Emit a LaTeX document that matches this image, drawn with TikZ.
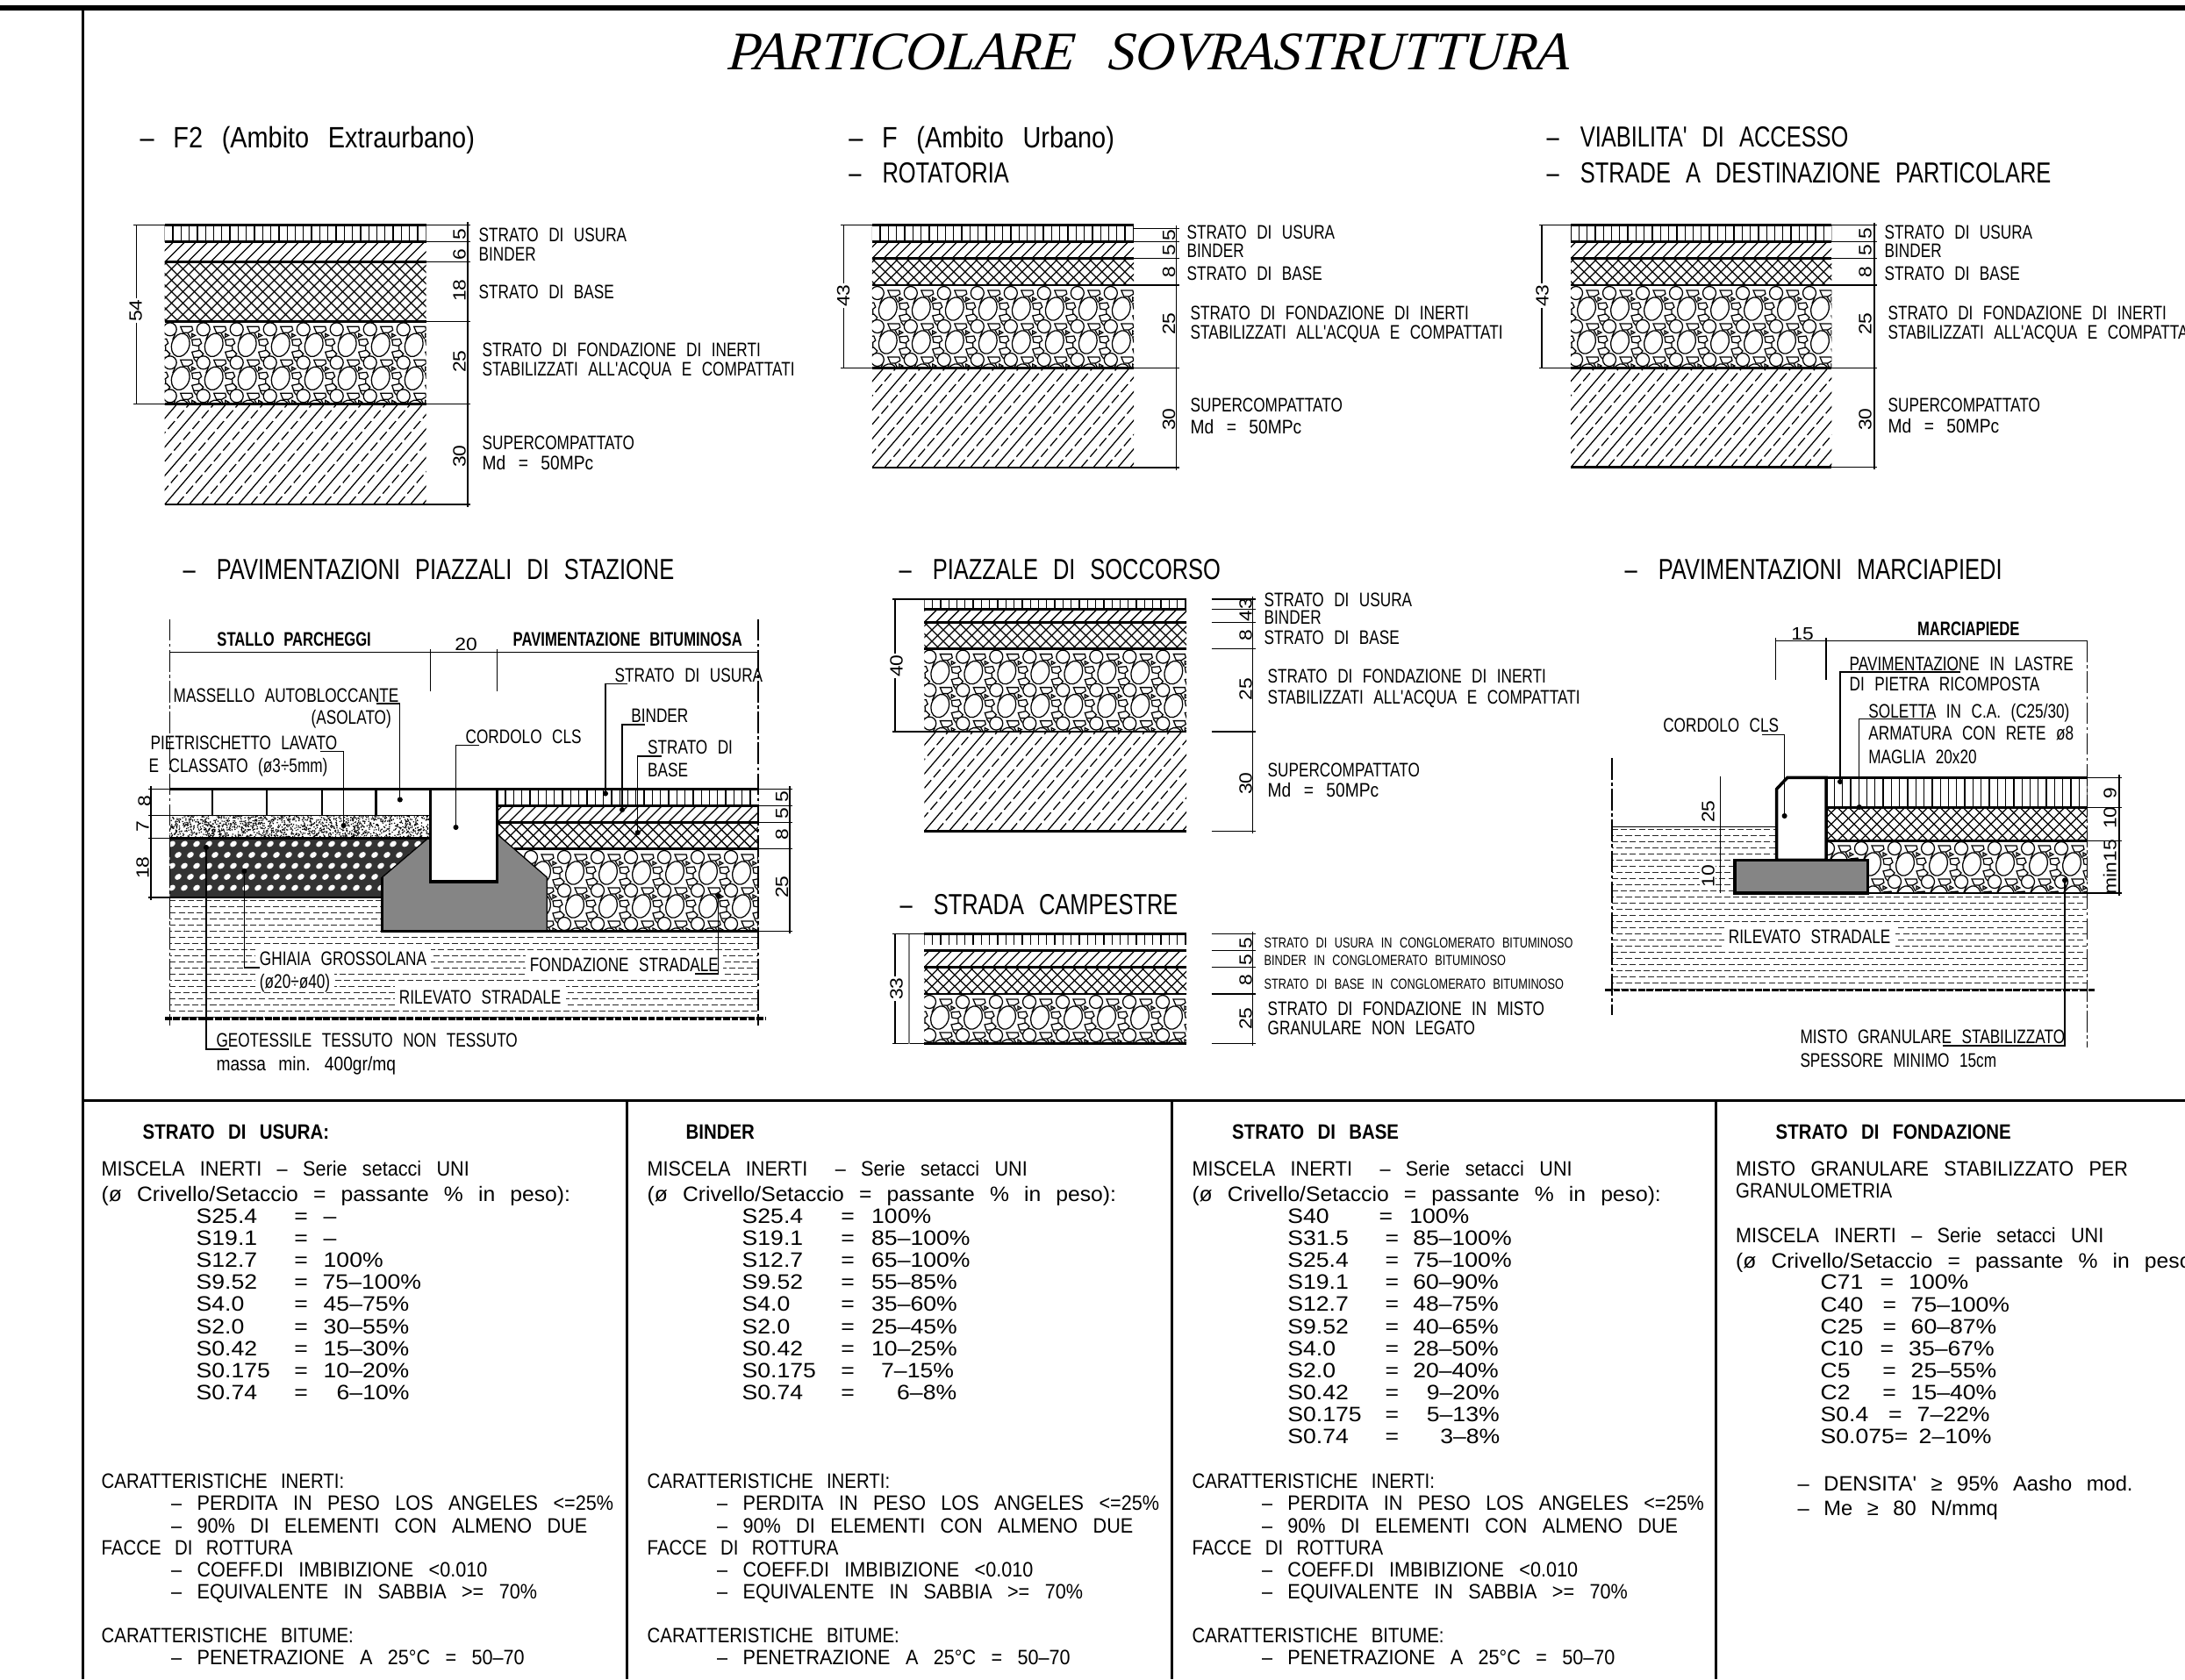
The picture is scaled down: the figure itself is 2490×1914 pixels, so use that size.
\documentclass[tikz,border=0pt]{standalone}
\usepackage{fontspec}
\newfontfamily\cadfont[FakeStretch=0.77,WordSpace=2.4]{Liberation Sans}
\newfontfamily\cadboldfont[FakeStretch=0.745,WordSpace=2.3]{Liberation Sans}
\newfontfamily\capfont[FakeStretch=0.86,WordSpace=2.7]{Liberation Sans}
\newfontfamily\widefont[FakeStretch=0.91,WordSpace=2.9]{Liberation Sans}
\newfontfamily\mixfont[FakeStretch=1.0,WordSpace=2.5]{Liberation Sans}
\newfontfamily\crivfont[FakeStretch=1.04,WordSpace=2.5]{Liberation Sans}
\newfontfamily\tblfont[FakeStretch=1.12,WordSpace=2.4]{Liberation Sans}
\newfontfamily\titlefont[FakeStretch=1.0,WordSpace=2.5,ItalicFeatures={FakeSlant=0.08}]{Liberation Serif}
\usetikzlibrary{arrows.meta, calc}

% layer fills, in the pixel units of the picture
\newcommand{\usurafill}[4]{\begin{scope}
    \clip (#1,#2) rectangle (#3,#4);
    \foreach \hx in {0,...,33} \draw[hatch_line] (#1+9.3*\hx,#2) -- (#1+9.3*\hx,#4);
\end{scope}}
\newcommand{\binderfill}[4]{\begin{scope}
    \clip (#1,#2) rectangle (#3,#4);
    \foreach \hx in {-4,...,24} \draw[hatch_line] (#1+13*\hx,#4) -- ++(60,-60);
\end{scope}}
\newcommand{\crossfill}[4]{\begin{scope}
    \clip (#1,#2) rectangle (#3,#4);
    \foreach \hx in {-9,...,24} {
        \draw[hatch_line] (#1+13*\hx,#4) -- ++(110,-110);
        \draw[hatch_line] (#1+13*\hx,#2) -- ++(110,110);
    }
\end{scope}}
\newcommand{\superfill}[4]{\begin{scope}
    \clip (#1,#2) rectangle (#3,#4);
    \foreach \hx in {-6,...,12} {
        \draw[hatch_line] (#1+28*\hx,#4) -- ++(120,-140);
        \draw[hatch_line, dash pattern=on 3.4pt off 1.2pt] (#1+14+28*\hx,#4) -- ++(120,-140);
    }
\end{scope}}
\newcommand{\stonefill}[5]{\begin{scope}
    \clip #1;
    \foreach \sc in {-1,...,#4} \foreach \sr in {0,...,#5}
        \pic at (#2+38*\sc,#3+38*\sr) {stone_tile};
\end{scope}}
\newcommand{\rilevatofill}[4]{\begin{scope}
    \clip #1;
    \foreach \rr in {0,2,...,28} \draw[rilevato_line] (#2,#4+7*\rr) -- (#3,#4+7*\rr);
    \foreach \rr in {1,3,...,27} \draw[rilevato_line, dash phase=1.4pt] (#2,#4+7*\rr) -- (#3,#4+7*\rr);
\end{scope}}
\newcommand{\roadstack}[8]{
    \usurafill{#1}{#3}{#2}{#4}
    \binderfill{#1}{#4}{#2}{#5}
    \crossfill{#1}{#5}{#2}{#6}
    \stonefill{(#1,#6) rectangle (#2,#7)}{#1+6}{#6+9}{8}{3}
    \superfill{#1}{#7}{#2}{#8}
    \foreach \yy in {#3,#4,#5,#6,#7,#8} \draw[sep_line] (#1,\yy) -- (#2,\yy);
}

\begin{document}
\begin{tikzpicture}[
    x=0.01cm, y=-0.01cm,
    frame_line/.style={line width=0.85pt},
    hatch_line/.style={line width=0.36pt},
    stone_line/.style={line width=0.36pt, draw=black, fill=white},
    rilevato_line/.style={line width=0.28pt, black!85, dash pattern=on 2pt off 0.9pt},
    sep_line/.style={line width=0.8pt},
    thin_line/.style={line width=0.38pt},
    thick_line/.style={line width=1pt},
    axis_line/.style={line width=0.35pt, dash pattern=on 7pt off 1pt on 1pt off 1pt},
    ground_line/.style={line width=0.9pt, dash pattern=on 2.2pt off 0.5pt},
    leader/.style={line width=0.38pt, -{Circle[length=1.7pt]}},
    lbl/.style={anchor=west, inner sep=0pt, text height=0.16cm, text depth=0pt, font=\cadfont\fontsize{6.35pt}{8pt}\selectfont},
    lbl_low/.style={lbl, font=\capfont\fontsize{6.35pt}{8pt}\selectfont},
    lbl_bold/.style={lbl, font=\cadboldfont\bfseries\fontsize{6.35pt}{8pt}\selectfont},
    lbl_w/.style={lbl, fill=white, inner sep=1.5pt},
    lbl_small/.style={lbl, text height=0.13cm, font=\cadfont\fontsize{4.7pt}{7pt}\selectfont},
    sect/.style={lbl, text height=0.24cm, font=\cadfont\fontsize{9.4pt}{12pt}\selectfont},
    sect_low/.style={sect, font=\capfont\fontsize{9.55pt}{12pt}\selectfont},
    dim_num/.style={inner sep=0.5pt, rotate=90, text height=0.15cm, text depth=0pt, font=\tblfont\fontsize{5.8pt}{7pt}\selectfont},
    dim_total/.style={dim_num, fill=white},
    tbl/.style={anchor=west, inner sep=0pt, text height=0.17cm, text depth=0pt, font=\capfont\fontsize{6.75pt}{8pt}\selectfont},
    tbl_wide/.style={tbl, font=\widefont\fontsize{6.75pt}{8pt}\selectfont},
    tbl_mix/.style={tbl, font=\mixfont\fontsize{6.75pt}{8pt}\selectfont},
    tbl_criv/.style={tbl, font=\crivfont\fontsize{6.75pt}{8pt}\selectfont},
    tbl_row/.style={tbl, font=\tblfont\fontsize{6.75pt}{8pt}\selectfont},
    tbl_head/.style={tbl, font=\capfont\bfseries\fontsize{6.75pt}{8pt}\selectfont},
    stone_tile/.pic={
        \draw[stone_line] (0,0) circle[radius=7.5];
        \draw[stone_line] (12,-3) -- (25,-3) -- (26,1) -- (21,4) -- (15,4) -- cycle;
        \draw[hatch_line] (6,5) -- (3,12) (20,4) -- (24,11) (33,19) -- (33,24) (27,33) -- (30,37);
        \draw[stone_line] (12,18) ellipse[x radius=10, y radius=13.5, rotate=-18];
        \draw[stone_line] (25,12) -- (34,11) -- (36,16) -- (32,19) -- (26,18) -- cycle;
        \draw[stone_line] (25,26) -- (34,24) -- (38,28) -- (35,32) -- (27,32) -- cycle;
        \draw[stone_line] (25,5) -- (29,7) -- (25,9) -- cycle;
    }
]
    \useasboundingbox (0,0) rectangle (2490,1914);

    % Sheet frame
    \draw[line width=1.7pt] (0,9) -- (2490,9);
    \draw[frame_line] (94.4,9) -- (94.4,1914);
    \draw[frame_line] (94.4,1254) -- (2490,1254);
    \foreach \fx in {714.3,1335,1955.3} \draw[frame_line] (\fx,1254) -- (\fx,1914);

    % Titles
    \node[anchor=west, inner sep=0pt, text height=0.41cm, text depth=0pt, font=\titlefont\itshape\fontsize{17.6pt}{20pt}\selectfont] (main_title) at (829,59) {PARTICOLARE SOVRASTRUTTURA};
    \node[sect_low] (f2_title) at (159,156.7) {– F2 (Ambito Extraurbano)};
    \node[sect_low] (f_title) at (966.7,156.7) {– F (Ambito Urbano)};
    \node[sect] (rot_title) at (966.7,196.7) {–\hspace{0.07cm} ROTATORIA};
    \node[sect] (via_title) at (1762,155) {–\hspace{0.07cm} VIABILITA' DI ACCESSO};
    \node[sect] (dest_title) at (1762,196.7) {–\hspace{0.07cm} STRADE A DESTINAZIONE PARTICOLARE};
    \node[sect] (pz_title) at (208,648) {–\hspace{0.07cm} PAVIMENTAZIONI PIAZZALI DI STAZIONE};
    \node[sect] (sc_title) at (1024,648) {–\hspace{0.07cm} PIAZZALE DI SOCCORSO};
    \node[sect] (cm_title) at (1025,1030) {–\hspace{0.07cm} STRADA CAMPESTRE};
    \node[sect] (mc_title) at (1851,648) {–\hspace{0.07cm} PAVIMENTAZIONI MARCIAPIEDI};

    % F2 stack
    \roadstack{187.7}{485.6}{256.3}{275.7}{298.7}{366.3}{460.7}{575}
    \draw[thin_line] (152,256.3) -- (536,256.3);
    \draw[thin_line] (152,460.7) -- (536,460.7);
    \foreach \yy in {275.7,298.7,366.3,575} \draw[thin_line] (485.6,\yy) -- (536,\yy);
    \draw[thin_line] (155.5,256.3) -- (155.5,460.7);
    \draw[thin_line] (533,253) -- (533,578);
    \node[dim_total] (f2_total) at (154,354) {54};
    \foreach \dn/\dv/\dy in {a/5/267,b/6/290,c/18/331,d/25/412,e/30/520}
        \node[dim_num] (f2_d\dn) at (523,\dy) {\dv};
    \node[lbl] (f2_usura) at (545,267) {STRATO DI USURA};
    \node[lbl] (f2_binder) at (545,289) {BINDER};
    \node[lbl] (f2_base) at (545,332) {STRATO DI BASE};
    \node[lbl] (f2_fond_a) at (549,398) {STRATO DI FONDAZIONE DI INERTI};
    \node[lbl] (f2_fond_b) at (549,420) {STABILIZZATI ALL'ACQUA E COMPATTATI};
    \node[lbl] (f2_super_a) at (549,504) {SUPERCOMPATTATO};
    \node[lbl_low] (f2_super_b) at (549,527) {Md = 50MPc};

    % F stack
    \roadstack{993.8}{1292}{256.3}{275.3}{294.7}{325}{419.3}{533}
    \draw[thin_line] (958,256.3) -- (993.8,256.3);
    \draw[thin_line] (1292,260.7) -- (1344,260.7);
    \draw[thin_line] (958,419.3) -- (1344,419.3);
    \foreach \yy in {275.3,294.7,325,533} \draw[thin_line] (1292,\yy) -- (1344,\yy);
    \draw[thin_line] (961.6,256.3) -- (961.6,419.3);
    \draw[thin_line] (1340.7,257) -- (1340.7,536);
    \node[dim_total] (f_total) at (960.6,337) {43};
    \foreach \dn/\dv/\dy in {a/5/267.7,b/5/285,c/8/310,d/25/369,e/30/478}
        \node[dim_num] (f_d\dn) at (1331.5,\dy) {\dv};
    \node[lbl] (f_usura) at (1352,264) {STRATO DI USURA};
    \node[lbl] (f_binder) at (1352,285.7) {BINDER};
    \node[lbl] (f_base) at (1352,311.7) {STRATO DI BASE};
    \node[lbl] (f_fond_a) at (1356,356) {STRATO DI FONDAZIONE DI INERTI};
    \node[lbl] (f_fond_b) at (1356,378) {STABILIZZATI ALL'ACQUA E COMPATTATI};
    \node[lbl] (f_super_a) at (1356,461.7) {SUPERCOMPATTATO};
    \node[lbl_low] (f_super_b) at (1356,486) {Md = 50MPc};

    % Viabilita stack
    \roadstack{1790}{2087.4}{256.7}{275.7}{294.7}{325}{419.3}{532.7}
    \draw[thin_line] (1754,256.7) -- (2139,256.7);
    \draw[thin_line] (1754,419.3) -- (2139,419.3);
    \foreach \yy in {275.7,294.7,325,532.7} \draw[thin_line] (2087.4,\yy) -- (2139,\yy);
    \draw[thin_line] (1757,256.7) -- (1757,419.3);
    \draw[thin_line] (2136,254) -- (2136,535);
    \node[dim_total] (via_total) at (1757,337) {43};
    \foreach \dn/\dv/\dy in {a/5/266,b/5/285,c/8/310,d/25/369,e/30/478}
        \node[dim_num] (via_d\dn) at (2125,\dy) {\dv};
    \node[lbl] (via_usura) at (2147,264.7) {STRATO DI USURA};
    \node[lbl] (via_binder) at (2147,285.7) {BINDER};
    \node[lbl] (via_base) at (2147,311.7) {STRATO DI BASE};
    \node[lbl] (via_fond_a) at (2151,356) {STRATO DI FONDAZIONE DI INERTI};
    \node[lbl] (via_fond_b) at (2151,378) {STABILIZZATI ALL'ACQUA E COMPATTATI};
    \node[lbl] (via_super_a) at (2151,461.7) {SUPERCOMPATTATO};
    \node[lbl_low] (via_super_b) at (2151,485) {Md = 50MPc};

    % Soccorso stack
    \roadstack{1053.3}{1352}{682.9}{694.6}{709.3}{739.6}{834}{947.5}
    \draw[thin_line] (1017,682.9) -- (1053.3,682.9);
    \draw[thin_line] (1017,834) -- (1053.3,834);
    \foreach \yy in {682.9,694.6,709.3,739.6,834,947.5} \draw[thin_line] (1380.7,\yy) -- (1431,\yy);
    \draw[thin_line] (1020,682.9) -- (1020,834);
    \draw[thin_line] (1427.8,680) -- (1427.8,950);
    \node[dim_total] (sc_total) at (1021,759) {40};
    \foreach \dn/\dv/\dy in {a/3/688,b/4/702,c/8/724,d/25/785.7,e/30/893}
        \node[dim_num] (sc_d\dn) at (1419,\dy) {\dv};
    \node[lbl] (sc_usura) at (1440,683) {STRATO DI USURA};
    \node[lbl] (sc_binder) at (1440,703) {BINDER};
    \node[lbl] (sc_base) at (1440,726) {STRATO DI BASE};
    \node[lbl] (sc_fond_a) at (1444,770.7) {STRATO DI FONDAZIONE DI INERTI};
    \node[lbl] (sc_fond_b) at (1444,794) {STABILIZZATI ALL'ACQUA E COMPATTATI};
    \node[lbl] (sc_super_a) at (1444,877) {SUPERCOMPATTATO};
    \node[lbl_low] (sc_super_b) at (1444,900) {Md = 50MPc};

    % Campestre stack
    \usurafill{1053.3}{1064.6}{1352}{1077}
    \binderfill{1053.3}{1083.6}{1352}{1102.5}
    \crossfill{1053.3}{1102.5}{1352}{1133}
    \stonefill{(1053.3,1133) rectangle (1352,1189.6)}{1059}{1142}{8}{1}
    \foreach \yy in {1064.6,1083.6,1102.5,1133,1189.6} \draw[sep_line] (1053.3,\yy) -- (1352,\yy);
    \draw[thin_line] (1017,1064.6) -- (1053.3,1064.6);
    \draw[thin_line] (1017,1189.6) -- (1053.3,1189.6);
    \foreach \yy in {1064.6,1083.6,1102.5,1133,1189.6} \draw[thin_line] (1380.7,\yy) -- (1431,\yy);
    \draw[thin_line] (1020,1064.6) -- (1020,1189.6);
    \draw[thin_line, gray] (1036,1064.6) -- (1036,1189.6);
    \draw[thin_line] (1427.8,1062) -- (1427.8,1192);
    \node[dim_total] (cm_total) at (1021,1127) {33};
    \foreach \dn/\dv/\dy in {a/5/1075,b/5/1094,c/8/1117,d/25/1161}
        \node[dim_num] (cm_d\dn) at (1419,\dy) {\dv};
    \node[lbl_small] (cm_usura) at (1440,1074) {STRATO DI USURA IN CONGLOMERATO BITUMINOSO};
    \node[lbl_small] (cm_binder) at (1440,1093.6) {BINDER IN CONGLOMERATO BITUMINOSO};
    \node[lbl_small] (cm_base) at (1440,1121) {STRATO DI BASE IN CONGLOMERATO BITUMINOSO};
    \node[lbl] (cm_fond_a) at (1444,1149) {STRATO DI FONDAZIONE IN MISTO};
    \node[lbl] (cm_fond_b) at (1444,1171) {GRANULARE NON LEGATO};

    % Piazzali: layers
    \rilevatofill{(193.4,1023) -- (435.5,1023) -- (435.5,1061.7) -- (864,1061.7) -- (864,1161) -- (193.4,1161) -- cycle}{193.4}{864}{1026}
    \begin{scope}
        \clip (193.4,929.2) rectangle (490.7,955.5);
        \pgfmathsetseed{7}
        \foreach \k in {1,...,1500} \fill (193.4+297.3*rnd,929.2+26.3*rnd) circle[radius=0.85];
    \end{scope}
    \begin{scope}
        \clip (193.4,955.5) -- (490.7,955.5) -- (435.5,1000) -- (435.5,1023) -- (193.4,1023) -- cycle;
        \fill[black!80] (193.4,955.5) rectangle (490.7,1023);
        \foreach \gr in {0,2,4} \foreach \gc in {0,...,21} \fill[white] (196+14*\gc,962+12.5*\gr) ellipse[x radius=4.2, y radius=3, rotate=35];
        \foreach \gr in {1,3} \foreach \gc in {0,...,21} \fill[white] (203+14*\gc,962+12.5*\gr) ellipse[x radius=4.2, y radius=3, rotate=35];
    \end{scope}
    \usurafill{566.7}{899.4}{864}{918.3}
    \binderfill{566.7}{918.3}{864}{937.3}
    \begin{scope}
        \clip (566.7,937.3) -- (864,937.3) -- (864,967.3) -- (585.5,967.3) -- (566.7,951) -- cycle;
        \crossfill{566.7}{937.3}{864}{967.3}
    \end{scope}
    \stonefill{(585.5,967.3) -- (864,967.3) -- (864,1061.7) -- (623.3,1061.7) -- (623.3,1000) -- cycle}{567}{977}{8}{3}
    \draw[thin_line, fill=black!48] (490.7,953) -- (435.5,1000) -- (435.5,1061.7) -- (623.3,1061.7) -- (623.3,1000) -- (566.7,951) -- cycle;
    \draw[thick_line] (435.5,1000) -- (435.5,1061.7) -- (623.3,1061.7);
    \draw[sep_line] (566.7,899.4) -- (864,899.4);
    \foreach \yy in {918.3,937.3} \draw[sep_line] (566.7,\yy) -- (864,\yy);
    \draw[sep_line] (585.5,967.3) -- (864,967.3);
    \draw[sep_line] (565,1061.7) -- (864,1061.7);
    \foreach \yy in {899.4,918.3,937.3,967.3,1061.7} \draw[thin_line] (864,\yy) -- (903,\yy);
    \draw[thin_line] (900,896) -- (900,1064);
    \draw[sep_line] (193.4,899.4) -- (490.7,899.4);
    \draw[thin_line] (169,899.4) -- (193.4,899.4);
    \foreach \yy in {929.2,955.5,1023} \draw[thin_line] (169,\yy) -- (193.4,\yy);
    \draw[thin_line] (193.4,929.2) -- (490.7,929.2);
    \draw[sep_line] (193.4,955.5) -- (490.7,955.5);
    \draw[sep_line] (193.4,1023) -- (435.5,1023);
    \foreach \jx in {242,304,367,428.4} \draw[sep_line] (\jx,899.4) -- (\jx,929.2);
    \draw[thin_line] (172,896) -- (172,1026);
    \draw[thick_line, fill=white] (490.7,899.4) rectangle (566.7,1005);

    % Piazzali: axes and dimensions
    \draw[axis_line] (193.4,705.8) -- (193.4,1168.8);
    \draw[axis_line] (864,705.8) -- (864,1168.8);
    \draw[ground_line] (188,1161) -- (871.7,1161);
    \draw[thin_line] (193.4,743.3) -- (864,743.3);
    \foreach \tx in {490.7,566.7} \draw[thin_line] (\tx,740) -- (\tx,788);
    \node[dim_num, rotate=-90] (pz_d20) at (531,734) {20};
    \foreach \dn/\dv/\dy/\dx in {a/8/913/164,b/7/942.5/162,c/18/989/162}
        \node[dim_num] (pz_l\dn) at (\dx,\dy) {\dv};
    \foreach \dn/\dv/\dy in {a/5/908,b/5/927,c/8/951,d/25/1011}
        \node[dim_num] (pz_r\dn) at (890.7,\dy) {\dv};

    % Piazzali: labels and leaders
    \node[lbl_bold] (pz_stallo) at (246.7,728) {STALLO PARCHEGGI};
    \node[lbl_bold] (pz_bitum) at (584,728) {PAVIMENTAZIONE BITUMINOSA};
    \node[lbl] (pz_usura) at (700,769) {STRATO DI USURA};
    \node[lbl] (pz_binder) at (718.7,815.6) {BINDER};
    \node[lbl] (pz_base_a) at (737.5,851) {STRATO DI};
    \node[lbl] (pz_base_b) at (737.5,877.6) {BASE};
    \node[lbl] (pz_cordolo) at (530,839) {CORDOLO CLS};
    \node[lbl] (pz_massello) at (197,792.4) {MASSELLO AUTOBLOCCANTE};
    \node[lbl] (pz_asolato) at (354,817) {(ASOLATO)};
    \node[lbl] (pz_pietr_a) at (171,846.8) {PIETRISCHETTO LAVATO};
    \node[lbl] (pz_pietr_b) at (169,872.4) {E CLASSATO (ø3÷5mm)};
    \node[lbl_w] (pz_ghiaia_a) at (290,1092.7) {GHIAIA GROSSOLANA};
    \node[lbl_w] (pz_ghiaia_b) at (290,1118) {(ø20÷ø40)};
    \node[lbl_w] (pz_fond) at (598,1099.7) {FONDAZIONE STRADALE};
    \node[lbl_w] (pz_ril) at (449,1136.5) {RILEVATO STRADALE};
    \node[lbl] (pz_geo_a) at (245.8,1185.6) {GEOTESSILE TESSUTO NON TESSUTO};
    \node[lbl_low] (pz_geo_b) at (245.8,1212) {massa min. 400gr/mq};
    \coordinate (pz_usura_pt) at (690,907.5);
    \coordinate (pz_binder_pt) at (709,926);
    \coordinate (pz_base_pt) at (726.7,952);
    \coordinate (pz_cordolo_pt) at (519.5,946);
    \coordinate (pz_massello_pt) at (455.8,914.5);
    \coordinate (pz_pietr_pt) at (391.6,944);
    \coordinate (pz_ghiaia_pt) at (278.4,990);
    \coordinate (pz_fond_pt) at (818.7,1018);
    \coordinate (pz_geo_pt) at (235,963);
    \draw[leader] ($(pz_usura.west)+(15,10.4)$) -| (pz_usura_pt);
    \draw[leader] ($(pz_binder.west)+(16,10.4)$) -| (pz_binder_pt);
    \draw[leader] ($(pz_base_a.west)+(16,11)$) -| (pz_base_pt);
    \draw[leader] ($(pz_cordolo.west)+(16.4,10.6)$) -| (pz_cordolo_pt);
    \draw[leader] ($(pz_massello.west)+(232,9.6)$) -| (pz_massello_pt);
    \draw[leader] ($(pz_pietr_a.west)+(193.7,9.8)$) -| (pz_pietr_pt);
    \draw[leader] ($(pz_ghiaia_a.west)+(6,10.3)$) -| (pz_ghiaia_pt);
    \draw[leader] ($(pz_fond.west)+(194,10.3)$) -| (pz_fond_pt);
    \draw[leader] ($(pz_geo_a.west)+(15.2,10.4)$) -| (pz_geo_pt);

    % Marciapiede: layers
    \rilevatofill{(1837,942.5) -- (2024.6,942.5) -- (2024.6,980.4) -- (1977,980.4) -- (1977,1018) -- (2378.7,1018) -- (2378.7,1128.4) -- (1837,1128.4) -- cycle}{1837}{2378.7}{945}
    \draw[thin_line] (1837,942.5) -- (2024.6,942.5);
    \usurafill{2081}{886.4}{2378.7}{920.4}
    \crossfill{2081}{920.4}{2378.7}{958.3}
    \stonefill{(2081,958.3) -- (2378.7,958.3) -- (2378.7,1018) -- (2128.7,1018) -- (2128.7,980.4) -- (2081,980.4) -- cycle}{2083}{967}{8}{1}
    \foreach \yy in {920.4,958.3} \draw[sep_line] (2081,\yy) -- (2378.7,\yy);
    \draw[sep_line] (2128.7,1018) -- (2378.7,1018);
    \draw[thick_line, fill=white] (2024.6,980.4) -- (2024.6,899.4) -- (2036.8,886.4) -- (2081,886.4) -- (2081,980.4) -- cycle;
    \draw[thick_line] (2081,886.4) -- (2378.7,886.4);
    \draw[thick_line, fill=black!48] (1977,980.4) rectangle (2128.7,1018);

    % Marciapiede: axes and dimensions
    \draw[axis_line] (1837,864) -- (1837,1156.5);
    \draw[axis_line] (2378.7,730.3) -- (2378.7,1194);
    \draw[ground_line] (1829,1128.4) -- (2387,1128.4);
    \draw[thin_line] (2023.7,730.3) -- (2378.7,730.3);
    \foreach \tx in {2023.7,2081} \draw[thin_line] (\tx,727) -- (\tx,775);
    \draw[thin_line] (1960.3,884.7) -- (1960.3,1018);
    \foreach \yy in {886.4,920.4,958.3,1018} \draw[thin_line] (2378.7,\yy) -- (2418,\yy);
    \draw[thin_line] (2415,883) -- (2415,1021);
    \node[dim_num, rotate=-90] (mc_d15) at (2054,721.6) {15};
    \foreach \dn/\dv/\dy in {a/25/925,b/10/998.7}
        \node[dim_total] (mc_l\dn) at (1946,\dy) {\dv};
    \foreach \dn/\dv/\dy in {a/9/904,b/10/932,c/min15/988}
        \node[dim_num] (mc_r\dn) at (2404,\dy) {\dv};

    % Marciapiede: labels and leaders
    \node[lbl_bold] (mc_head) at (2184.4,716.3) {MARCIAPIEDE};
    \node[lbl] (mc_pav_a) at (2107,756.6) {PAVIMENTAZIONE IN LASTRE};
    \node[lbl] (mc_pav_b) at (2107,779.4) {DI PIETRA RICOMPOSTA};
    \node[lbl] (mc_sol_a) at (2128.7,810) {SOLETTA IN C.A. (C25/30)};
    \node[lbl] (mc_sol_b) at (2128.7,835.6) {ARMATURA CON RETE ø8};
    \node[lbl] (mc_sol_c) at (2128.7,862.6) {MAGLIA 20x20};
    \node[lbl] (mc_cordolo) at (1894.6,826.8) {CORDOLO CLS};
    \node[lbl_w] (mc_ril) at (1964,1067) {RILEVATO STRADALE};
    \node[lbl] (mc_misto_a) at (2050.8,1181.7) {MISTO GRANULARE STABILIZZATO};
    \node[lbl] (mc_misto_b) at (2050.8,1208.4) {SPESSORE MINIMO 15cm};
    \coordinate (mc_pav_pt) at (2097,894);
    \coordinate (mc_sol_pt) at (2118.8,923);
    \coordinate (mc_cordolo_pt) at (2033.6,933);
    \coordinate (mc_misto_pt) at (2353,1000.4);
    \draw[leader] ($(mc_pav_a.west)+(127,9.4)$) -| (mc_pav_pt);
    \draw[leader] ($(mc_sol_a.west)+(74.8,9.8)$) -| (mc_sol_pt);
    \draw[leader] ($(mc_cordolo.west)+(113.2,10.5)$) -| (mc_cordolo_pt);
    \draw[leader] ($(mc_misto_a.west)+(163,10.3)$) -| (mc_misto_pt);

    % Table headings
    \node[tbl_head] (usura_head) at (162,1290.3) {STRATO DI USURA:};
    \node[tbl_head] (binder_head) at (781,1290.3) {BINDER};
    \node[tbl_head] (base_head) at (1403.5,1290.3) {STRATO DI BASE};
    \node[tbl_head] (fond_head) at (2023,1290.3) {STRATO DI FONDAZIONE};

    % Table text shared by the first three columns
    \foreach \cx/\cn/\gp in {115/usura/0pt,737/binder/0.14cm,1357.8/base/0.14cm} {
        \node[tbl_wide] (\cn_misc) at (\cx,1332.4) {MISCELA INERTI\hspace{\gp} – Serie setacci UNI};
        \node[tbl_criv] (\cn_criv) at (\cx,1361) {(ø Crivello/Setaccio = passante \% in peso):};
        \node[tbl] (\cn_inerti) at (\cx,1688) {CARATTERISTICHE INERTI:};
        \node[tbl_wide] (\cn_perd) at (\cx+79.5,1713) {– PERDITA IN PESO LOS ANGELES <=25\%};
        \node[tbl_wide] (\cn_elem) at (\cx+79.5,1738.7) {– 90\% DI ELEMENTI CON ALMENO DUE};
        \node[tbl] (\cn_facce) at (\cx,1763.6) {FACCE DI ROTTURA};
        \node[tbl_wide] (\cn_coeff) at (\cx+79.5,1789) {– COEFF.DI IMBIBIZIONE <0.010};
        \node[tbl_wide] (\cn_equi) at (\cx+79.5,1814) {– EQUIVALENTE IN SABBIA >= 70\%};
        \node[tbl] (\cn_bit) at (\cx,1864) {CARATTERISTICHE BITUME:};
        \node[tbl_wide] (\cn_pen) at (\cx+79.5,1889) {– PENETRAZIONE A 25°C = 50–70};
    }

    % Sieve rows
    \foreach \sn/\sv/\so [count=\r from 0] in {S25.4/–/0,S19.1/–/0,S12.7/100\%/0,S9.52/75–100\%/-1,S4.0/45–75\%/0,S2.0/30–55\%/0,S0.42/15–30\%/0,S0.175/10–20\%/0,S0.74/6–10\%/15} {
        \node[tbl_row] (usura_n\r) at (223,1386+25.1*\r) {\sn};
        \node[tbl_row] (usura_e\r) at (334.6,1386+25.1*\r) {=};
        \node[tbl_row] (usura_v\r) at (368+\so,1386+25.1*\r) {\sv};
    }
    \foreach \sn/\sv/\so [count=\r from 0] in {S25.4/100\%/0,S19.1/85–100\%/0,S12.7/65–100\%/0,S9.52/55–85\%/0,S4.0/35–60\%/0,S2.0/25–45\%/0,S0.42/10–25\%/0,S0.175/7–15\%/11,S0.74/6–8\%/29} {
        \node[tbl_row] (binder_n\r) at (845,1386+25.1*\r) {\sn};
        \node[tbl_row] (binder_e\r) at (957.6,1386+25.1*\r) {=};
        \node[tbl_row] (binder_v\r) at (992.5+\so,1386+25.1*\r) {\sv};
    }
    \foreach \sn/\sv/\so/\se [count=\r from 0] in {S40/100\%/-4/1571,S31.5/85–100\%/0/1578,S25.4/75–100\%/0/1578,S19.1/60–90\%/0/1578,S12.7/48–75\%/0/1578,S9.52/40–65\%/0/1578,S4.0/28–50\%/0/1578,S2.0/20–40\%/0/1578,S0.42/9–20\%/15.6/1578,S0.175/5–13\%/15.6/1578,S0.74/3–8\%/31/1578} {
        \node[tbl_row] (base_n\r) at (1466.7,1386+25.1*\r) {\sn};
        \node[tbl_row] (base_e\r) at (\se,1386+25.1*\r) {=};
        \node[tbl_row] (base_v\r) at (1609.6+\so,1386+25.1*\r) {\sv};
    }

    % Fondazione column
    \node[tbl_wide] (fond_misto_a) at (1977.5,1332.4) {MISTO GRANULARE STABILIZZATO PER};
    \node[tbl] (fond_misto_b) at (1977.5,1357) {GRANULOMETRIA};
    \node[tbl_wide] (fond_misc) at (1977.5,1407.7) {MISCELA INERTI – Serie setacci UNI};
    \node[tbl_criv] (fond_criv) at (1977.5,1437) {(ø Crivello/Setaccio = passante \% in peso):};
    \foreach \sn/\sv/\se/\sx [count=\r from 0] in {C71/100\%/2142/2174.5,C40/75–100\%/2145/2177,C25/60–87\%/2145/2177,C10/35–67\%/2142/2174.5,C5/25–55\%/2144.6/2177,C2/15–40\%/2144.6/2177,S0.4/7–22\%/2151.4/2184} {
        \node[tbl_row] (fond_n\r) at (2074,1461.4+25.1*\r) {\sn};
        \node[tbl_row] (fond_e\r) at (\se,1461.4+25.1*\r) {=};
        \node[tbl_row] (fond_v\r) at (\sx,1461.4+25.1*\r) {\sv};
    }
    \node[tbl_row] (fond_n7) at (2074,1637) {S0.075=};
    \node[tbl_row] (fond_v7) at (2186,1637) {2–10\%};
    \node[tbl_mix] (fond_dens) at (2048,1691.4) {– DENSITA' ≥ 95\% Aasho mod.};
    \node[tbl_mix] (fond_me) at (2048,1719.4) {– Me ≥ 80 N/mmq};
\end{tikzpicture}
\end{document}
